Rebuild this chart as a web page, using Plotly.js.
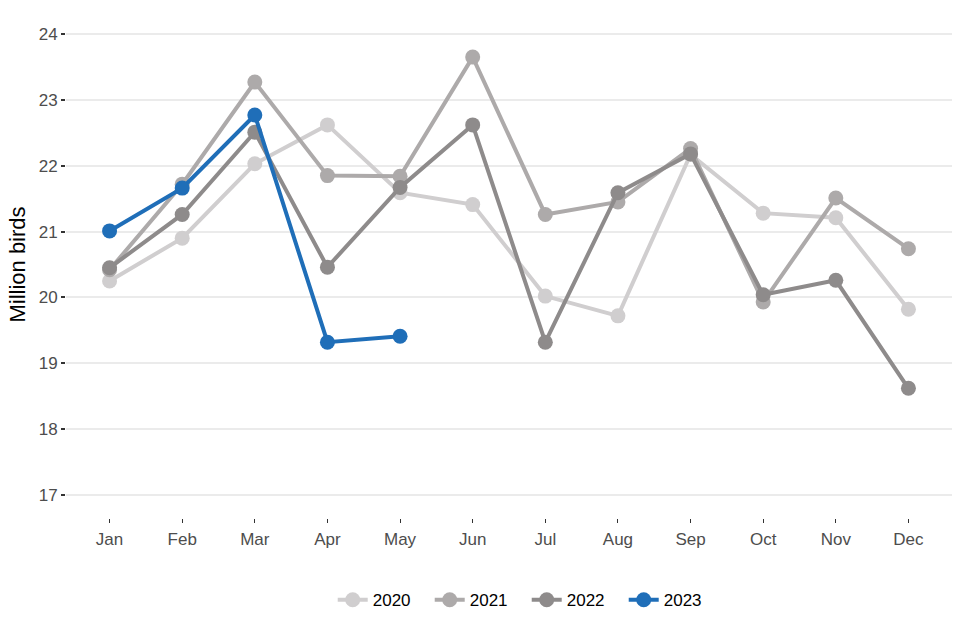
<!DOCTYPE html>
<html>
<head>
<meta charset="utf-8">
<script src="https://cdn.plot.ly/plotly-3.0.1.min.js"></script>
<style>html,body{margin:0;padding:0;background:#fff;}#chart{width:960px;height:640px;}</style>
</head>
<body>
<div id="chart"></div>
<script>
const months = ["Jan","Feb","Mar","Apr","May","Jun","Jul","Aug","Sep","Oct","Nov","Dec"];
const y2020 = [20.25, 20.90, 22.03, 22.62, 21.59, 21.41, 20.02, 19.72, 22.17, 21.28, 21.21, 19.82];
const y2021 = [20.42, 21.72, 23.27, 21.85, 21.84, 23.65, 21.26, 21.45, 22.26, 19.93, 21.51, 20.74];
const y2022 = [20.45, 21.26, 22.51, 20.46, 21.67, 22.62, 19.32, 21.59, 22.18, 20.04, 20.26, 18.62];
const y2023 = [21.01, 21.66, 22.77, 19.32, 19.41];
const seriesNames = ["2020","2021","2022","2023"];
const seriesColors = ["#d0cecf","#adaaaa","#8e8b8b","#1f6eb8"];
const seriesData = [y2020, y2021, y2022, y2023];

const traces = seriesData.map((ys, i) => ({
  type: "scatter",
  mode: "lines+markers",
  name: seriesNames[i],
  x: months.slice(0, ys.length),
  y: ys,
  line: {color: seriesColors[i], width: 4},
  marker: {color: seriesColors[i], size: 15}
}));

const layout = {
  width: 960, height: 640,
  margin: {l: 66, r: 8, t: 11, b: 122},
  paper_bgcolor: "#fff", plot_bgcolor: "#fff",
  font: {family: "Liberation Sans, Arial, sans-serif", size: 13, color: "#4d4d4d"},
  showlegend: true,
  legend: {orientation: "h", x: 0.52, xanchor: "center", y: -0.162, yanchor: "middle",
           font: {size: 17, color: "#000"}, itemwidth: 30, entrywidth: 52, entrywidthmode: "pixels",
           traceorder: "normal"},
  xaxis: {
    type: "category", categoryorder: "array", categoryarray: months,
    range: [-0.6, 11.6], showgrid: false, zeroline: false, showline: false,
    ticks: "outside", ticklen: 4, tickcolor: "#333", tickwidth: 1,
    ticklabelstandoff: 2,
    tickfont: {size: 17, color: "#4d4d4d"}, fixedrange: true
  },
  yaxis: {
    range: [16.65, 24.35], dtick: 1, tick0: 17,
    showgrid: true, gridcolor: "#ebebeb", gridwidth: 2, zeroline: false, showline: false,
    ticks: "outside", ticklen: 4, tickcolor: "#333", tickwidth: 2,
    tickfont: {size: 17, color: "#4d4d4d"},
    title: {text: "Million birds", font: {size: 22, color: "#000"}, standoff: 6}
  }
};
Plotly.newPlot("chart", traces, layout, {displayModeBar: false, staticPlot: true});
</script>
</body>
</html>
